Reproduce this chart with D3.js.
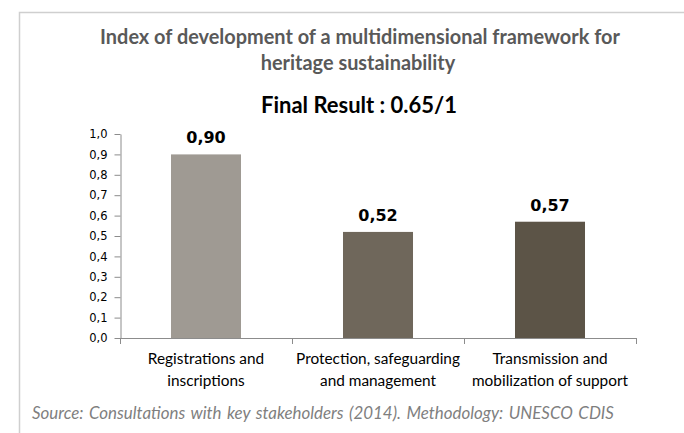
<!DOCTYPE html>
<html>
<head>
<meta charset="utf-8">
<script src="https://cdn.jsdelivr.net/npm/d3@7"></script>
<style>
  body { margin: 0; background: #fff; }
  svg { display: block; }
</style>
</head>
<body>
<div id="chart"></div>
<script>

// data
let categories = ["Registrations and inscriptions", "Protection, safeguarding and management", "Transmission and mobilization of support"];
let categoryLines = [["Registrations and", "inscriptions"], ["Protection, safeguarding", "and management"], ["Transmission and", "mobilization of support"]];
let values = [0.90, 0.52, 0.57];
let valueLabels = ["0,90", "0,52", "0,57"];
let yTicks = [0, 0.1, 0.2, 0.3, 0.4, 0.5, 0.6, 0.7, 0.8, 0.9, 1.0];
let yTickLabels = ["0,0", "0,1", "0,2", "0,3", "0,4", "0,5", "0,6", "0,7", "0,8", "0,9", "1,0"];

let titleLines = ["Index of development of a multidimensional framework for", "heritage sustainability"];
let subtitle = "Final Result : 0.65/1";
let source = "Source: Consultations with key stakeholders (2014). Methodology: UNESCO CDIS";

let barColors = ["#9f9a93", "#6f675b", "#5c5447"];
let font = "Lato, 'Open Sans', sans-serif";

let width = 684;
let height = 433;

let svg = d3.select("#chart").append("svg")
     .attr("width", width)
     .attr("height", height);

// outer frame (runs off the right and bottom edge)
svg.append("rect")
     .attr("x", 19.5)
     .attr("y", 12.5)
     .attr("width", 720)
     .attr("height", 460)
     .attr("fill", "none")
     .attr("stroke", "#cfcfcf")
     .attr("stroke-width", 1.5);

// shrink / grow font so the text is as wide as in the picture
function fit(sel, target) {
     let w = sel.node().getComputedTextLength();
     let fs = parseFloat(sel.attr("font-size"));
     sel.attr("font-size", (fs * target / w).toFixed(2));
     return fs * target / w;
}

let t1 = svg.append("text")
     .attr("x", 360).attr("y", 44)
     .attr("text-anchor", "middle")
     .attr("font-family", font)
     .attr("font-weight", "bold")
     .attr("font-size", 18)
     .attr("fill", "#595959")
     .text(titleLines[0]);
let titleSize = fit(t1, 520);

svg.append("text")
     .attr("x", 358).attr("y", 70)
     .attr("text-anchor", "middle")
     .attr("font-family", font)
     .attr("font-weight", "bold")
     .attr("font-size", titleSize)
     .attr("fill", "#595959")
     .text(titleLines[1]);

let st = svg.append("text")
     .attr("x", 359).attr("y", 113)
     .attr("text-anchor", "middle")
     .attr("font-family", font)
     .attr("font-weight", "bold")
     .attr("font-size", 20)
     .attr("fill", "#000")
     .text(subtitle);
fit(st, 196);

// scales
let x = d3.scaleBand()
     .domain(categories)
     .range([120, 636])
     .paddingInner(0.593)
     .paddingOuter(0.2965);

let y = d3.scaleLinear()
     .domain([0, 1])
     .range([338, 134]);

// y axis
let yAxis = svg.append("g")
     .attr("transform", "translate(120.5,0)")
     .call(d3.axisLeft(y)
          .tickValues(yTicks)
          .tickFormat(function(d, i) { return yTickLabels[i]; })
          .tickSize(6)
          .tickSizeOuter(0)
          .tickPadding(7));
yAxis.select(".domain").attr("stroke", "#8c8c8c");
yAxis.selectAll(".tick line").attr("stroke", "#8c8c8c");
yAxis.selectAll(".tick text")
     .attr("font-family", "'DejaVu Sans', Verdana, sans-serif")
     .attr("font-size", 11.5)
     .attr("fill", "#000");

// bars
svg.selectAll(".bar")
     .data(values)
     .enter().append("rect")
     .attr("class", "bar")
     .attr("x", function(d, i) { return x(categories[i]); })
     .attr("y", function(d) { return y(d); })
     .attr("width", x.bandwidth())
     .attr("height", function(d) { return y(0) - y(d); })
     .attr("fill", function(d, i) { return barColors[i]; });

// value labels
svg.selectAll(".val")
     .data(values)
     .enter().append("text")
     .attr("class", "val")
     .attr("x", function(d, i) { return x(categories[i]) + x.bandwidth() / 2; })
     .attr("y", function(d) { return y(d) - 11; })
     .attr("text-anchor", "middle")
     .attr("font-family", "'DejaVu Sans', Verdana, sans-serif")
     .attr("font-weight", "bold")
     .attr("font-size", 16)
     .attr("fill", "#000")
     .text(function(d, i) { return valueLabels[i]; });

// x axis with ticks between categories
let x0 = x.range()[0];
let bounds = d3.range(categories.length + 1).map(function(i) { return x0 + i * x.step(); });
let xAxis = svg.append("g");
xAxis.append("line")
     .attr("x1", x0).attr("x2", bounds[bounds.length - 1])
     .attr("y1", y(0) + 0.5).attr("y2", y(0) + 0.5)
     .attr("stroke", "#8c8c8c");
xAxis.selectAll(".xt")
     .data(bounds)
     .enter().append("line")
     .attr("x1", function(d) { return d + 0.5; })
     .attr("x2", function(d) { return d + 0.5; })
     .attr("y1", y(0))
     .attr("y2", y(0) + 6)
     .attr("stroke", "#8c8c8c");

// category labels
let cat = svg.selectAll(".cat")
     .data(categories)
     .enter().append("text")
     .attr("class", "cat")
     .attr("x", function(d) { return x(d) + x.bandwidth() / 2; })
     .attr("y", 364)
     .attr("text-anchor", "middle")
     .attr("font-family", font)
     .attr("font-size", 15)
     .attr("fill", "#000");
cat.selectAll("tspan")
     .data(function(d, i) { return categoryLines[i]; })
     .enter().append("tspan")
     .attr("x", function() { return d3.select(this.parentNode).attr("x"); })
     .attr("dy", function(d, i) { return i === 0 ? 0 : 22; })
     .text(function(d) { return d; });

// match width of "Protection, safeguarding"
let probe = svg.append("text")
     .attr("font-family", font)
     .attr("font-size", 15)
     .text(categoryLines[1][0]);
let catSize = fit(probe, 164);
probe.remove();
cat.attr("font-size", catSize);

// source note
let src = svg.append("text")
     .attr("x", 32).attr("y", 419)
     .attr("font-family", font)
     .attr("font-style", "italic")
     .attr("font-size", 15)
     .attr("fill", "#7f7f7f")
     .attr("word-spacing", 1.5)
     .text(source);
fit(src, 584);

</script>
</body>
</html>
